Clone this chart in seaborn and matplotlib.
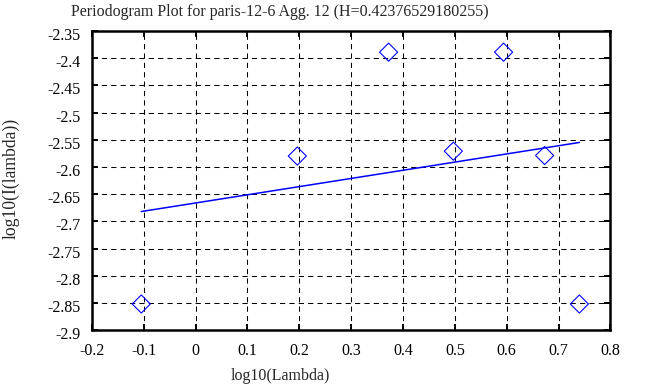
import matplotlib
matplotlib.use("Agg")
import matplotlib.pyplot as plt
import matplotlib.transforms as mtransforms
import seaborn as sns
import pandas as pd
from matplotlib.ticker import FormatStrFormatter, MultipleLocator

# data
log_lambda = [-0.1049, 0.1961, 0.3722, 0.4971, 0.5940, 0.6732, 0.7402]
log_I = [-2.852, -2.580, -2.389, -2.571, -2.389, -2.579, -2.852]
fit_x = [-0.1049, 0.7402]
fit_y = [-2.682, -2.555]
judul = "Periodogram Plot for paris-12-6 Agg. 12 (H=0.42376529180255)"

df_titik = pd.DataFrame({"x": log_lambda, "y": log_I})
df_fit = pd.DataFrame({"x": fit_x, "y": fit_y})

sns.set_theme(style="ticks")
plt.rcParams["font.family"] = ["Liberation Serif", "DejaVu Serif"]

fig = plt.figure(figsize=(6.57, 3.87), dpi=100)
ax = fig.add_axes([0.140, 0.147, 0.789, 0.773])

# garis fit
sns.lineplot(data=df_fit, x="x", y="y", color="#0000ff", linewidth=1.1, ax=ax)
# titik periodogram (diamond kosong)
sns.scatterplot(data=df_titik, x="x", y="y", marker="D", s=85,
                facecolor="none", edgecolor="#0000ff", linewidth=0.8, ax=ax, zorder=3)

ax.set_xlim(-0.2, 0.8)
ax.set_ylim(-2.9, -2.35)
ax.xaxis.set_major_locator(MultipleLocator(0.1))
ax.yaxis.set_major_locator(MultipleLocator(0.05))
ax.xaxis.set_major_formatter(FormatStrFormatter("%g"))
ax.yaxis.set_major_formatter(FormatStrFormatter("%g"))

ax.grid(True, color="black", linestyle=(0, (5, 4)), linewidth=0.75)
ax.tick_params(direction="in", length=4.3, width=1.4, top=True, right=True,
               labelsize=11.5, colors="black")
ax.tick_params(axis="x", pad=9)
ax.tick_params(axis="y", pad=8)
for sp in ax.spines.values():
    sp.set_linewidth(1.8)
    sp.set_color("black")

# label sumbu y agak turun sedikit seperti aslinya
geser = mtransforms.ScaledTranslation(0, -3 / 100, fig.dpi_scale_trans)
for lbl in ax.get_yticklabels():
    lbl.set_transform(lbl.get_transform() + geser)

ax.set_xlabel("")
ax.set_ylabel("")
fig.text(280 / 657, 1 - 12 / 387, judul, fontsize=11.5, ha="center", va="center")
fig.text(280 / 657, 1 - 376 / 387, "log10(Lambda)", fontsize=11.5, ha="center", va="center")
fig.text(11 / 657, 1 - 178 / 387, "log10(I(lambda))", fontsize=12.7,
         rotation=90, ha="center", va="center")

plt.savefig("out.png", dpi=100)
plt.close()
